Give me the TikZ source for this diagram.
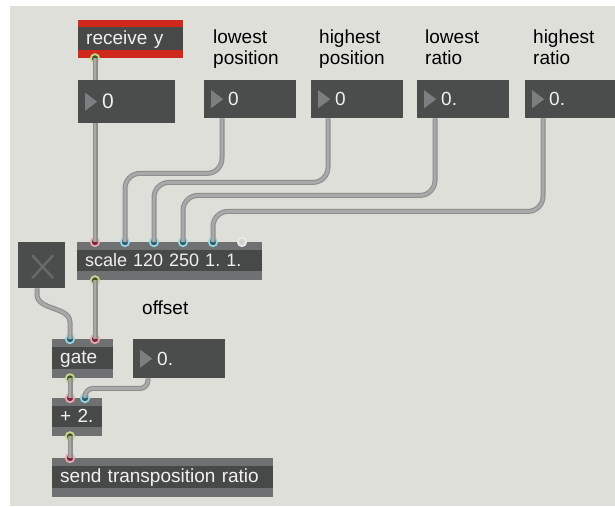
\documentclass[tikz,border=0pt]{standalone}
\usepackage{fontspec}
\setmainfont{Liberation Sans}
\frenchspacing

\definecolor{patchbg}{HTML}{DFDFDA}
\definecolor{boxbody}{HTML}{474948}
\definecolor{boxband}{HTML}{6E7072}
\definecolor{numbody}{HTML}{4B4D4C}
\definecolor{tri}{HTML}{7C7E7F}
\definecolor{boxtext}{HTML}{F0F0F0}
\definecolor{recvred}{HTML}{D1281D}
\definecolor{cordedge}{HTML}{8E8E8E}
\definecolor{cordfill}{HTML}{A9A9A9}
\definecolor{hotring}{HTML}{E7A9B3}
\definecolor{hotcore}{HTML}{7A2638}
\definecolor{coldring}{HTML}{9AD4E2}
\definecolor{coldcore}{HTML}{22596A}
\definecolor{outring}{HTML}{C9D68C}
\definecolor{outcore}{HTML}{3A552A}
\definecolor{idlering}{HTML}{E8E8E8}
\definecolor{idlecore}{HTML}{D2D2D2}
\definecolor{xmark}{HTML}{686A6A}

% inlet / outlet marker: position, ring colour, core colour
\newcommand\maxport[3]{\filldraw[draw=#2,fill=#3,line width=1.8pt] (#1) circle[radius=4.2pt];}

\tikzset{
  boxfont/.style={font=\fontsize{19}{21}\selectfont},
  obj/.style={anchor=north west, inner xsep=8pt, inner ysep=0pt, fill=boxband,
    text=boxtext, boxfont, align=left, text height=14pt, text depth=4pt,
    path picture={\fill[boxbody] ([yshift=-8pt]path picture bounding box.north west)
      rectangle ([yshift=9pt]path picture bounding box.south east);}},
  recvbox/.style={anchor=north west, inner xsep=8pt, inner ysep=0pt, fill=recvred,
    text=boxtext, boxfont, align=left, text height=14pt, text depth=4pt,
    path picture={\fill[boxbody] ([yshift=-7pt]path picture bounding box.north west)
      rectangle ([yshift=8pt]path picture bounding box.south east);}},
  numbox/.style={anchor=north west, inner sep=0pt, fill=numbody,
    path picture={\fill[tri] ([xshift=7pt,yshift=9pt]path picture bounding box.west)
      -- ([xshift=7pt,yshift=-9pt]path picture bounding box.west)
      -- ([xshift=19pt]path picture bounding box.west) -- cycle;}},
  numlbl/.style={anchor=west, xshift=24pt, inner sep=0pt, text=boxtext,
    font=\fontsize{19}{21}\selectfont},
  togglebox/.style={anchor=north west, inner sep=0pt, fill=numbody,
    path picture={\draw[xmark,line width=2.4pt]
      ([shift={(14pt,-13pt)}]path picture bounding box.north west)
      -- ([shift={(-12pt,10pt)}]path picture bounding box.south east)
      ([shift={(-12pt,-13pt)}]path picture bounding box.north east)
      -- ([shift={(14pt,10pt)}]path picture bounding box.south west);}},
  lbl/.style={anchor=north west, inner sep=0pt, align=left, boxfont, text=black},
  cord/.style={draw=cordedge, double=cordfill, double distance=2.8pt,
    line width=1.1pt, rounded corners=15pt},
}

\begin{document}
\begin{tikzpicture}[x=1pt,y=-1pt]
\useasboundingbox (0,0) rectangle (615,506);
\fill[white] (0,0) rectangle (615,506);
\fill[patchbg] (10,6) rectangle (615,506);

% comments above the number boxes
\node[lbl] (tlp) at (213,30) {lowest\\position};
\node[lbl] (thp) at (319,30) {highest\\position};
\node[lbl] (tlr) at (425,30) {lowest\\ratio};
\node[lbl] (thr) at (533,30) {highest\\ratio};
\node[lbl] (toff) at (142,301) {offset};

% objects
\node[recvbox, minimum height=38pt, text width=89pt] (recv) at (78,20) {receive y};
\node[numbox, minimum width=97pt, minimum height=43pt,
  label={[numlbl,font=\fontsize{21}{21}\selectfont]west:0}] (n0) at (78,80) {};
\node[numbox, minimum width=92pt, minimum height=38pt, label={[numlbl]west:0}] (nlp) at (204,80) {};
\node[numbox, minimum width=92pt, minimum height=38pt, label={[numlbl]west:0}] (nhp) at (311,80) {};
\node[numbox, minimum width=92pt, minimum height=38pt, label={[numlbl]west:0.}] (nlr) at (417,80) {};
\node[numbox, minimum width=92pt, minimum height=38pt, label={[numlbl]west:0.}] (nhr) at (525,80) {};

\node[togglebox, minimum width=47pt, minimum height=46pt] (tog) at (18,242) {};
\node[obj, minimum height=38pt, text width=169pt, font=\fontsize{18}{21}\selectfont] (scale) at (77,242) {scale 120 250 1.\ 1.};
\node[obj, minimum height=39pt, text width=45pt] (gate) at (52,339) {gate};
\node[numbox, minimum width=92pt, minimum height=39pt, label={[numlbl]west:0.}] (noff) at (133,339) {};
\node[obj, minimum height=38pt, text width=34pt] (plus) at (52,398) {+ 2.};
\node[obj, minimum height=39pt, text width=205pt] (send) at (52,458) {send transposition ratio};

% inlets and outlets
\coordinate (recv-o) at ([xshift=17pt]recv.south west);
\coordinate (n0-i)   at ([xshift=17pt]n0.north west);
\coordinate (n0-o)   at ([xshift=17pt]n0.south west);
\coordinate (nlp-o)  at ([xshift=18pt]nlp.south west);
\coordinate (nhp-o)  at ([xshift=17pt]nhp.south west);
\coordinate (nlr-o)  at ([xshift=18pt]nlr.south west);
\coordinate (nhr-o)  at ([xshift=18pt]nhr.south west);
\coordinate (sc-i1)  at ([xshift=18pt]scale.north west);
\coordinate (sc-i2)  at ([xshift=48pt]scale.north west);
\coordinate (sc-i3)  at ([xshift=77pt]scale.north west);
\coordinate (sc-i4)  at ([xshift=106pt]scale.north west);
\coordinate (sc-i5)  at ([xshift=136pt]scale.north west);
\coordinate (sc-i6)  at ([xshift=165pt]scale.north west);
\coordinate (sc-o)   at ([xshift=18pt]scale.south west);
\coordinate (tog-o)  at ([xshift=19pt]tog.south west);
\coordinate (gt-i1)  at ([xshift=18pt]gate.north west);
\coordinate (gt-i2)  at ([xshift=43pt]gate.north west);
\coordinate (gt-o)   at ([xshift=18pt]gate.south west);
\coordinate (off-o)  at ([xshift=15pt]noff.south west);
\coordinate (pl-i1)  at ([xshift=18pt]plus.north west);
\coordinate (pl-i2)  at ([xshift=33pt]plus.north west);
\coordinate (pl-o)   at ([xshift=18pt]plus.south west);
\coordinate (sd-i)   at ([xshift=18pt]send.north west);

\maxport{recv-o}{outring}{outcore}
\maxport{sc-i1}{hotring}{hotcore}
\maxport{sc-i2}{coldring}{coldcore}
\maxport{sc-i3}{coldring}{coldcore}
\maxport{sc-i4}{coldring}{coldcore}
\maxport{sc-i5}{coldring}{coldcore}
\maxport{sc-i6}{idlering}{idlecore}
\maxport{sc-o}{outring}{outcore}
\maxport{gt-i1}{coldring}{coldcore}
\maxport{gt-i2}{hotring}{hotcore}
\maxport{gt-o}{outring}{outcore}
\maxport{pl-i1}{hotring}{hotcore}
\maxport{pl-i2}{coldring}{coldcore}
\maxport{pl-o}{outring}{outcore}
\maxport{sd-i}{hotring}{hotcore}

% patch cords
\draw[cord] (recv-o) -- (n0-i);
\draw[cord] (n0-o) -- (sc-i1);
\draw[cord] (nlp-o) -- ++(0,55) -| (sc-i2);
\draw[cord] (nhp-o) -- ++(0,64) -| (sc-i3);
\draw[cord] (nlr-o) -- ++(0,77) -| (sc-i4);
\draw[cord] (nhr-o) -- ++(0,93) -| (sc-i5);
\draw[cord, sharp corners] (tog-o) -- ++(0,6) .. controls +(0,16) and +(0,-16) .. ++(33,28) -- (gt-i1);
\draw[cord] (sc-o) -- (gt-i2);
\draw[cord] (gt-o) -- (pl-i1);
\draw[cord, rounded corners=8pt] (off-o) -- ++(0,10) -| (pl-i2);
\draw[cord] (pl-o) -- (sd-i);
\end{tikzpicture}
\end{document}
